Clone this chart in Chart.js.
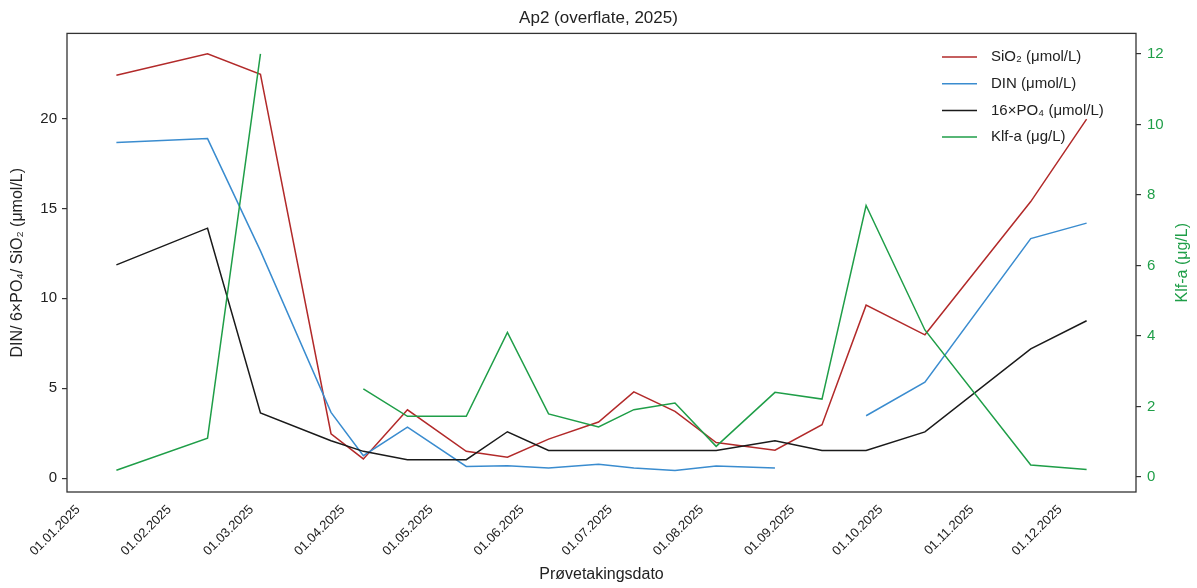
<!DOCTYPE html>
<html>
<head>
<meta charset="utf-8">
<script src="https://cdn.jsdelivr.net/npm/chart.js@4.4.1/dist/chart.umd.min.js"></script>
<style>
  html, body { margin: 0; padding: 0; background: #fff; }
  canvas { display: block; }
</style>
</head>
<body>
<canvas id="chart" width="1197" height="588"></canvas>
<script>
// Prøvetakingsdatoer (2025)
const sampleDates = [
  '2025-01-14', '2025-02-14', '2025-03-04', '2025-03-28', '2025-04-08',
  '2025-04-23', '2025-05-13', '2025-05-27', '2025-06-10', '2025-06-27',
  '2025-07-09', '2025-07-23', '2025-08-06', '2025-08-26', '2025-09-11',
  '2025-09-26', '2025-10-16', '2025-11-21', '2025-12-10'
];

// Serier (null = manglende måling)
const sio2 = [22.4, 23.6, 22.45, 2.47, 1.07, 3.8, 1.49, 1.16, 2.17, 3.12,
  4.8, 3.71, 1.98, 1.55, 2.97, 9.62, 7.97, 15.38, 19.96];
const din = [18.66, 18.88, 12.64, 3.66, 1.25, 2.84, 0.65, 0.69, 0.57, 0.77,
  0.57, 0.42, 0.68, 0.57, null, 3.47, 5.34, 13.32, 14.18];
const po4x16 = [11.86, 13.9, 3.62, 2.08, 1.49, 1.03, 1.03, 2.58, 1.54, 1.54,
  1.54, 1.54, 1.54, 2.08, 1.54, 1.54, 2.57, 7.19, 8.75];
const klfa = [0.19, 1.1, 12.0, null, 2.5, 1.72, 1.72, 4.1, 1.79, 1.42,
  1.91, 2.1, 0.87, 2.4, 2.21, 7.7, 4.17, 0.34, 0.21];

// Akseinndeling
const monthLabels = ['01.01.2025', '01.02.2025', '01.03.2025', '01.04.2025',
  '01.05.2025', '01.06.2025', '01.07.2025', '01.08.2025', '01.09.2025',
  '01.10.2025', '01.11.2025', '01.12.2025'];
const leftTicks = [0, 5, 10, 15, 20];
const rightTicks = [0, 2, 4, 6, 8, 10, 12];

const COLORS = {
  sio2: '#b22a2a',
  din: '#3a8ccf',
  po4: '#1a1a1a',
  klfa: '#1f9e48',
  axis: '#333333',
  text: '#222222'
};
const FONT = "'Liberation Sans', Arial, sans-serif";

// Dag i året (1. januar = 0)
const dayOfYear = s => {
  const [y, m, d] = s.split('-').map(Number);
  return (Date.UTC(y, m - 1, d) - Date.UTC(y, 0, 1)) / 86400000;
};
const monthDays = monthLabels.map(l => {
  const [d, m, y] = l.split('.');
  return dayOfYear(`${y}-${m}-${d}`);
});
const xs = sampleDates.map(dayOfYear);
const toPoints = vals => vals.map((v, i) => ({ x: xs[i], y: v }));

const lineDataset = (label, vals, color, axis, order) => ({
  label,
  data: toPoints(vals),
  borderColor: color,
  backgroundColor: color,
  borderWidth: 1.5,
  pointRadius: 0,
  tension: 0,
  spanGaps: false,
  yAxisID: axis,
  order
});

/**
 * Ramme rundt plottet, legende og høyre aksetittel
 */
const frameAndLegend = {
  id: 'frameAndLegend',
  afterDraw(chart) {
    const { ctx, chartArea: a } = chart;
    ctx.save();
    ctx.strokeStyle = COLORS.axis;
    ctx.lineWidth = 1.3;
    ctx.strokeRect(a.left, a.top, a.right - a.left, a.bottom - a.top);

    // Legende øverst til høyre
    const items = [
      ['SiO₂ (μmol/L)', COLORS.sio2],
      ['DIN (μmol/L)', COLORS.din],
      ['16×PO₄ (μmol/L)', COLORS.po4],
      ['Klf-a (μg/L)', COLORS.klfa]
    ];
    ctx.font = `15px ${FONT}`;
    ctx.textBaseline = 'middle';
    ctx.textAlign = 'left';
    items.forEach(([label, color], i) => {
      const y = 57 + i * 26.7;
      ctx.strokeStyle = color;
      ctx.lineWidth = 1.5;
      ctx.beginPath();
      ctx.moveTo(942, y);
      ctx.lineTo(977, y);
      ctx.stroke();
      ctx.fillStyle = COLORS.text;
      ctx.fillText(label, 991, y);
    });

    // Høyre aksetittel, leses nedenfra og opp
    ctx.translate(1183, (a.top + a.bottom) / 2);
    ctx.rotate(-Math.PI / 2);
    ctx.textAlign = 'center';
    ctx.font = `16px ${FONT}`;
    ctx.fillStyle = COLORS.klfa;
    ctx.fillText('Klf-a (μg/L)', 0, 0);
    ctx.restore();
  }
};

new Chart(document.getElementById('chart'), {
  type: 'line',
  data: {
    datasets: [
      lineDataset('SiO₂ (μmol/L)', sio2, COLORS.sio2, 'y', 3),
      lineDataset('DIN (μmol/L)', din, COLORS.din, 'y', 2),
      lineDataset('16×PO₄ (μmol/L)', po4x16, COLORS.po4, 'y', 1),
      lineDataset('Klf-a (μg/L)', klfa, COLORS.klfa, 'y2', 0)
    ]
  },
  options: {
    responsive: false,
    animation: false,
    layout: { padding: 0 },
    plugins: {
      legend: { display: false },
      tooltip: { enabled: false },
      title: {
        display: true,
        text: 'Ap2 (overflate, 2025)',
        color: COLORS.text,
        font: { family: FONT, size: 17, weight: 'normal' },
        padding: { top: 8, bottom: 5 }
      }
    },
    scales: {
      x: {
        type: 'linear',
        min: -3.8,
        max: 359.8,
        afterBuildTicks: s => { s.ticks = monthDays.map(v => ({ value: v })); },
        afterFit: s => { s.height = 96; },
        grid: { display: false },
        border: { display: false },
        ticks: {
          autoSkip: false,
          minRotation: 45,
          maxRotation: 45,
          padding: 2,
          color: COLORS.text,
          font: { family: FONT, size: 13 },
          callback: v => monthLabels[monthDays.indexOf(v)] || ''
        },
        title: {
          display: true,
          text: 'Prøvetakingsdato',
          color: COLORS.text,
          font: { family: FONT, size: 16 },
          padding: { top: 0, bottom: 4 }
        }
      },
      y: {
        position: 'left',
        min: -0.77,
        max: 24.73,
        afterBuildTicks: s => { s.ticks = leftTicks.map(v => ({ value: v })); },
        afterFit: s => { s.width = 67; },
        grid: { drawOnChartArea: false, drawTicks: true, tickLength: 5, color: COLORS.axis, lineWidth: 1.2 },
        border: { display: false },
        ticks: { padding: 5, color: COLORS.text, font: { family: FONT, size: 15 } },
        title: {
          display: true,
          text: 'DIN/ 6×PO₄/ SiO₂ (μmol/L)',
          color: COLORS.text,
          font: { family: FONT, size: 16 },
          padding: { top: 8, bottom: 0 }
        }
      },
      y2: {
        position: 'right',
        min: -0.425,
        max: 12.58,
        afterBuildTicks: s => { s.ticks = rightTicks.map(v => ({ value: v })); },
        afterFit: s => { s.width = 61; },
        grid: { drawOnChartArea: false, drawTicks: true, tickLength: 5, color: COLORS.axis, lineWidth: 1.2 },
        border: { display: false },
        ticks: { padding: 6, color: COLORS.klfa, font: { family: FONT, size: 15 } }
      }
    }
  },
  plugins: [frameAndLegend]
});
</script>
</body>
</html>
